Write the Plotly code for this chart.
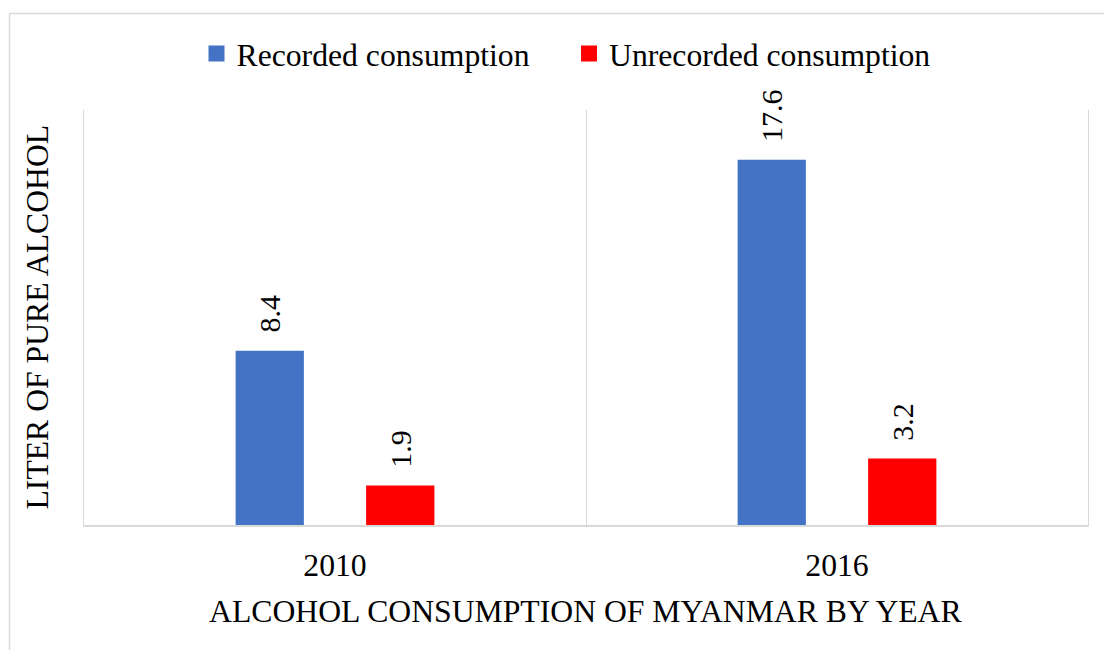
import plotly.graph_objects as go

# ---- data ----
years = ["2010", "2016"]
recorded = [8.4, 17.6]
unrecorded = [1.9, 3.2]
series_names = ["Recorded consumption", "Unrecorded consumption"]
series_colors = ["#4472C4", "#FF0000"]
x_title = "ALCOHOL CONSUMPTION OF MYANMAR BY YEAR"
y_title = "LITER OF PURE ALCOHOL"

FONT = "Liberation Serif, Times New Roman, serif"
W, H = 1104, 650
ML, MR, MT, MB = 84, 16, 110, 125
BARGAP = 0.48
GROUPGAP = 0.477
GRID = "#d9d9d9"

plot_w = W - ML - MR
plot_h = H - MT - MB

fig = go.Figure()
series_vals = [recorded, unrecorded]
for name, vals, col in zip(series_names, series_vals, series_colors):
    fig.add_trace(go.Bar(x=years, y=vals, name=name, showlegend=False,
                         marker=dict(color=col, line=dict(width=0))))
for name, col in zip(series_names, series_colors):
    fig.add_trace(go.Scatter(x=[None], y=[None], mode="markers", name=name,
                             marker=dict(symbol="square", size=17, color=col)))

# value labels, placed over each bar (offset derived from group layout)
cat_w = plot_w / len(years)
slot = cat_w * (1 - BARGAP) / len(series_vals)
annotations = []
for i, vals in enumerate(series_vals):
    off = (i - (len(series_vals) - 1) / 2) * slot
    for k, v in enumerate(vals):
        annotations.append(dict(x=k, y=v, xref="x", yref="y", text=f"{v}",
                                showarrow=False, textangle=-90, xshift=off,
                                yanchor="bottom", xanchor="center", yshift=16,
                                font=dict(family="Liberation Serif", size=30, color="#000000")))

annotations.append(dict(x=(37 - ML) / plot_w, y=0.5, xref="paper", yref="paper",
                        text=y_title, showarrow=False, textangle=-90,
                        xanchor="center", yanchor="middle",
                        font=dict(family=FONT, size=31.7, color="#000000")))
annotations.append(dict(x=0.5, y=(MT + plot_h - 611) / plot_h,
                        xref="paper", yref="paper", text=x_title, showarrow=False,
                        xanchor="center", yanchor="middle",
                        font=dict(family=FONT, size=31.7, color="#000000")))

bx = (9.5 - ML) / plot_w
by = (MT + plot_h - 13.5) / plot_h
shapes = [
    dict(type="line", xref="paper", yref="paper", x0=bx, x1=bx, y0=-1, y1=by,
         line=dict(color=GRID, width=1.5)),
    dict(type="line", xref="paper", yref="paper", x0=bx, x1=1.2, y0=by, y1=by,
         line=dict(color=GRID, width=1.5)),
]

fig.update_layout(
    width=W, height=H,
    margin=dict(l=ML, r=MR, t=MT, b=MB, pad=0),
    paper_bgcolor="white", plot_bgcolor="white",
    barmode="group", bargap=BARGAP, bargroupgap=GROUPGAP,
    font=dict(family=FONT, color="#000000"),
    showlegend=True,
    legend=dict(orientation="h", x=(196.5 - ML) / plot_w, xanchor="left",
                y=(MT + plot_h - 54) / plot_h, yanchor="middle",
                entrywidth=327.5, entrywidthmode="pixels",
                font=dict(family=FONT, size=31.7, color="#000000"),
                itemsizing="trace", bgcolor="rgba(0,0,0,0)", traceorder="normal"),
    xaxis=dict(type="category", categoryorder="array", categoryarray=years,
               range=[-0.5, len(years) - 0.5], tickson="boundaries",
               showgrid=True, gridcolor=GRID, gridwidth=1,
               showline=True, linecolor=GRID, linewidth=2, ticks="",
               ticklabelstandoff=11, zeroline=False,
               tickfont=dict(family=FONT, size=31.7, color="#000000")),
    yaxis=dict(range=[0, 20], showticklabels=False, showgrid=False, zeroline=False,
               showline=True, mirror=True, linecolor=GRID, linewidth=1, ticks=""),
    annotations=annotations,
    shapes=shapes,
)

fig.write_html("out.html", config={"displayModeBar": False},
               post_script="document.body.style.margin='0';")
